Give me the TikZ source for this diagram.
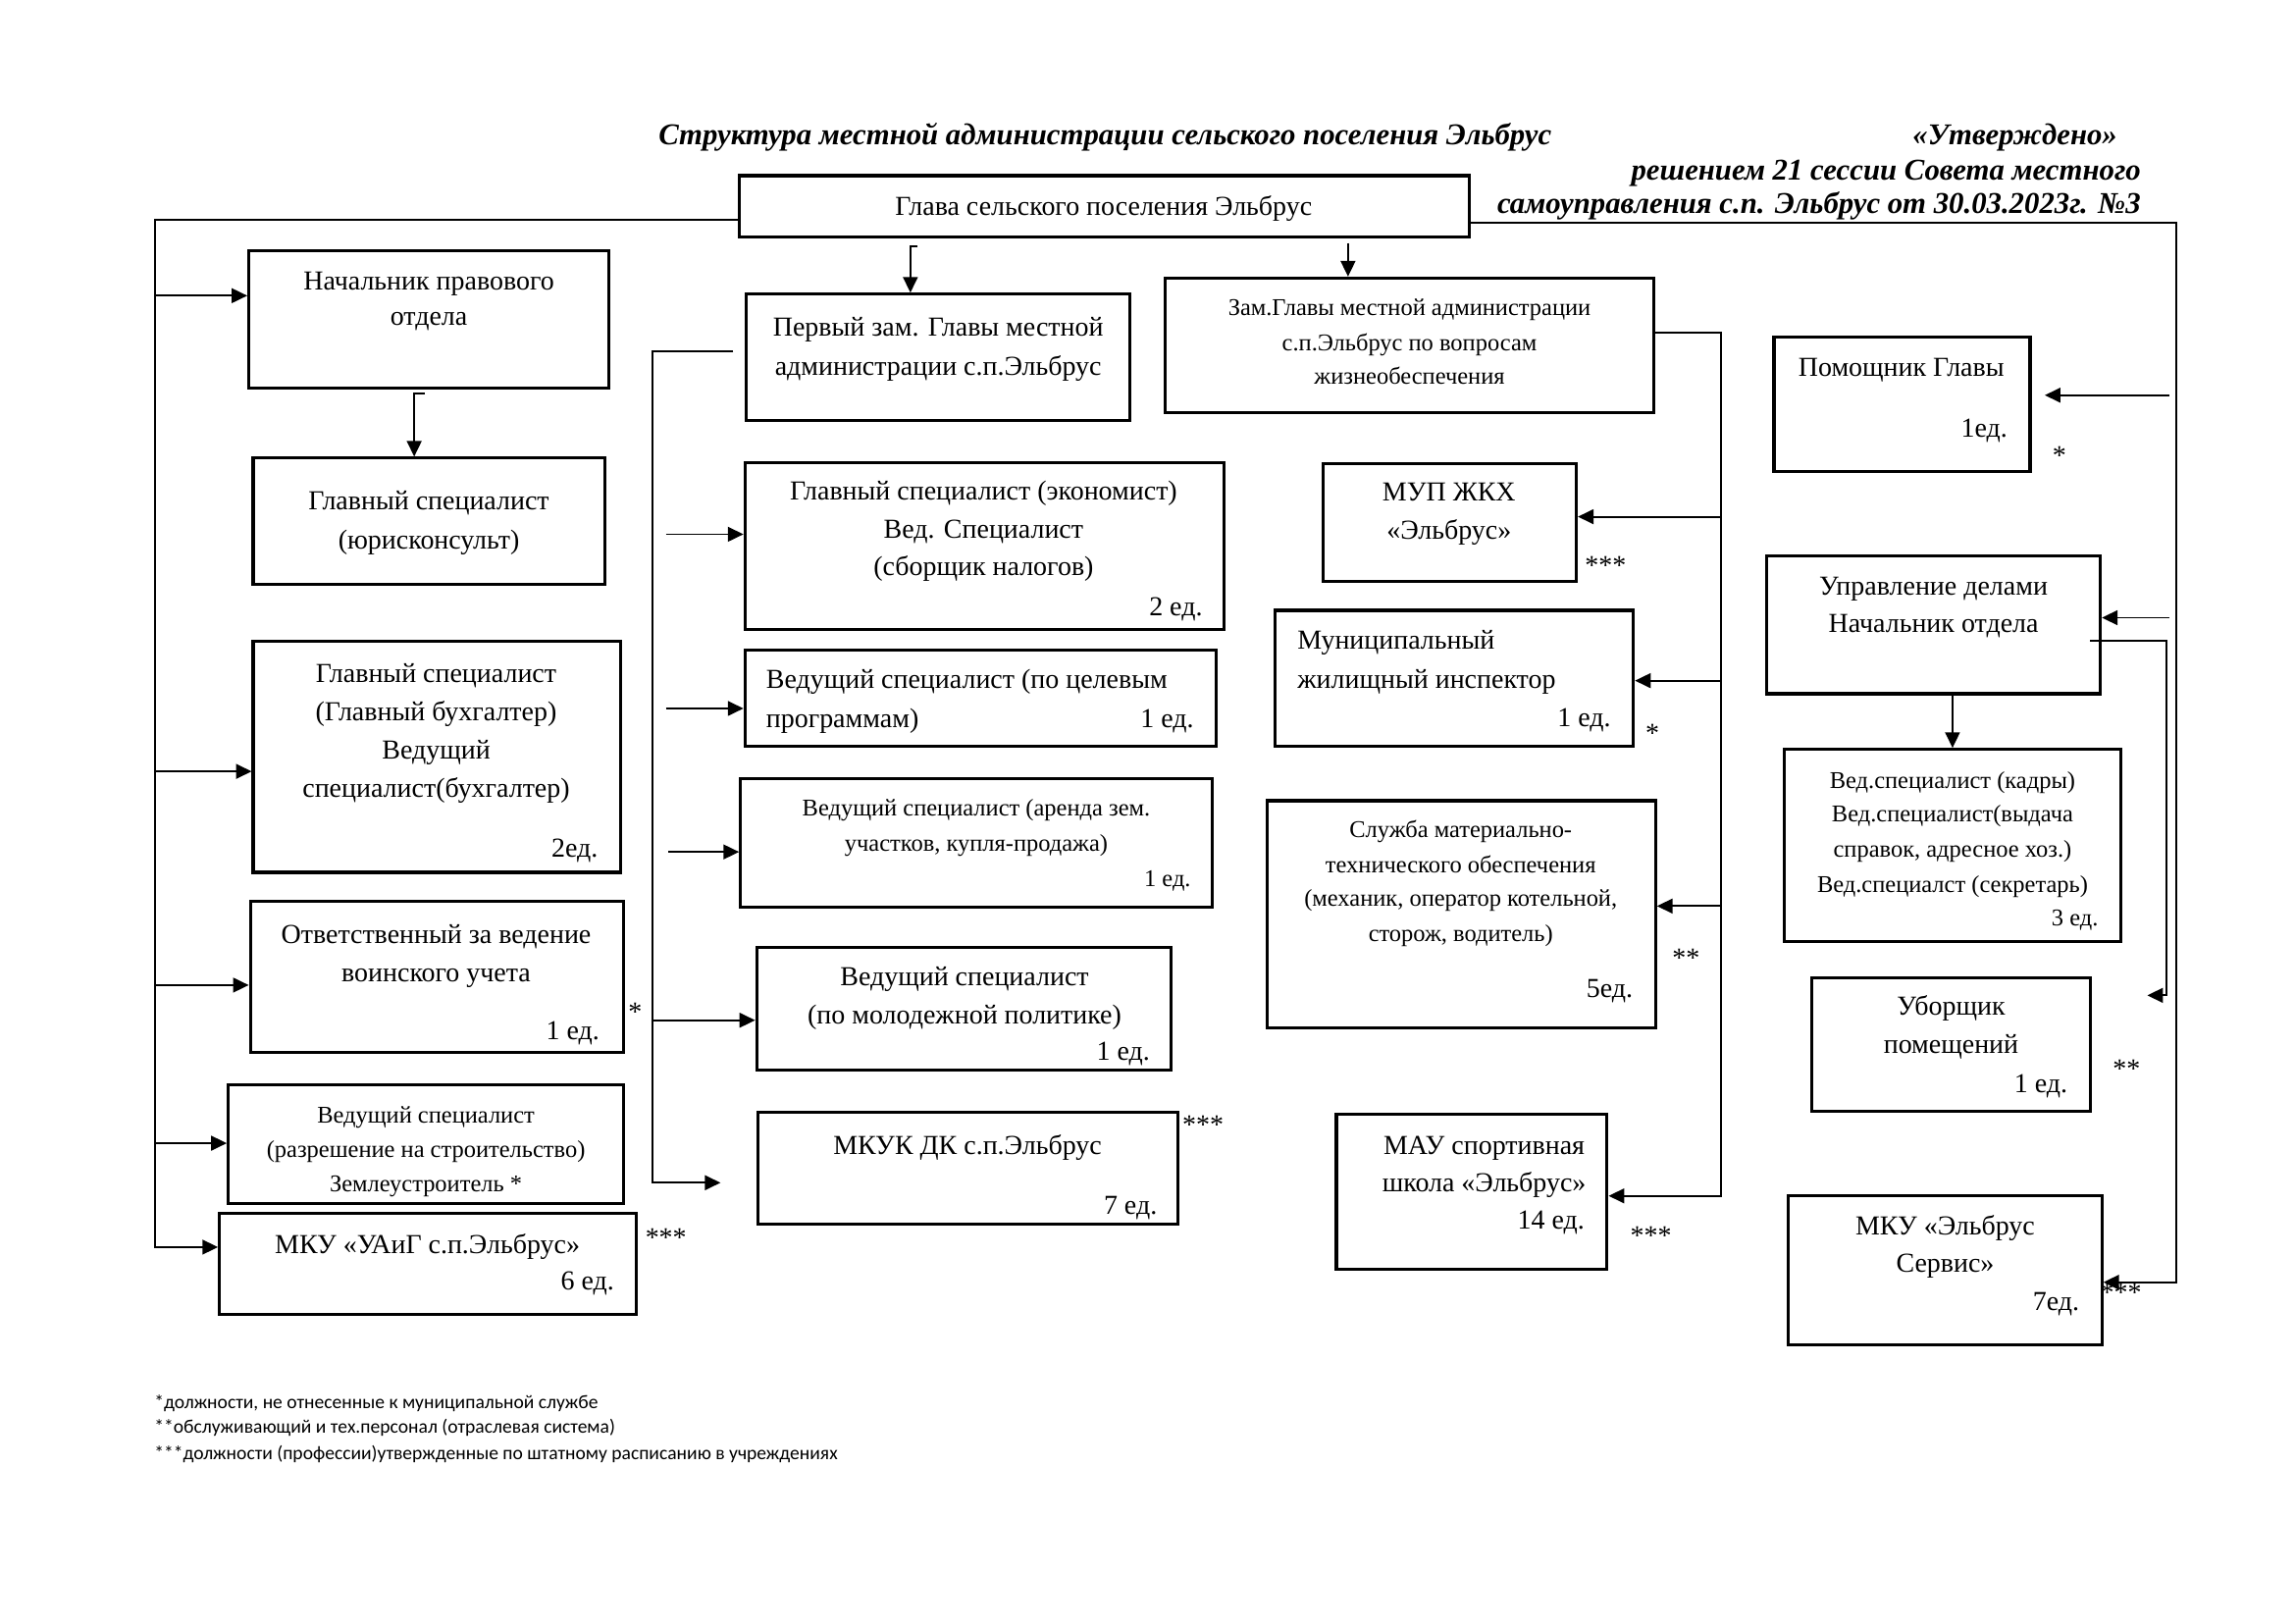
\documentclass[tikz,border=0pt]{standalone}
\usepackage{fontspec}
\setmainfont{Liberation Serif}
\newfontfamily\notefont{Carlito}
\usetikzlibrary{arrows.meta,fit}
\newcommand\mkbox[3]{\node[box, fit={(#2) (#3)}] (#1) {};}
\newcommand\tx[5]{\node[#1, anchor=#2] (#3) at (#4) {#5};}
\begin{document}
\begin{tikzpicture}[x=0.15mm,y=-0.15mm,
  box/.style={draw, line width=0.9pt, inner sep=0pt},
  conn/.style={line width=0.55pt},
  arr/.style={conn, -{Triangle[length=1.6mm,width=1.5mm]}},
  tn/.style={inner sep=0pt, yshift=-0.3mm, font=\fontsize{8}{10}\selectfont},
  ts/.style={inner sep=0pt, yshift=-0.3mm, font=\fontsize{7}{9}\selectfont},
  ttl/.style={inner sep=0pt, yshift=-0.2mm, font=\fontsize{8.8}{11}\selectfont\bfseries\itshape},
  note/.style={inner sep=0pt, font=\notefont\fontsize{5.6}{7}\selectfont},
  star/.style={inner sep=0pt, yshift=-0.3mm, font=\fontsize{8}{9}\selectfont}]
\useasboundingbox (0,0) rectangle (1568,1109);

% ---------- titles ----------
\tx{ttl}{mid}{title}{755,92}{Структура местной администрации сельского поселения Эльбрус}
\tx{ttl}{mid east}{appr1}{1447,92}{«Утверждено»}
\tx{ttl}{mid east}{appr2}{1463,116}{решением 21 сессии Совета местного}
\tx{ttl}{mid east}{appr3}{1463,139}{самоуправления с.п. Эльбрус от 30.03.2023г. №3}

% ---------- boxes ----------
\mkbox{glava}{505,120}{1004,162}
\mkbox{nach}{170,171}{416,265}
\mkbox{yur}{173,313}{413,399}
\mkbox{buh}{173,438}{424,596}
\mkbox{voin}{171,616}{426,719}
\mkbox{stroi}{156,741}{426,822}
\mkbox{uaig}{150,829}{435,898}
\mkbox{perv}{510,201}{772,287}
\mkbox{econ}{509,316}{836,430}
\mkbox{celev}{509,444}{831,510}
\mkbox{arenda}{506,532}{828,620}
\mkbox{molod}{517,647}{800,731}
\mkbox{mkuk}{518,760}{805,836}
\mkbox{zam}{796,190}{1130,282}
\mkbox{mup}{904,317}{1077,397}
\mkbox{mun}{871,417}{1116,510}
\mkbox{sluzh}{866,547}{1131,702}
\mkbox{mau}{913,761}{1098,867}
\mkbox{pom}{1212,230}{1387,322}
\mkbox{upr}{1207,380}{1435,474}
\mkbox{kadr}{1219,512}{1449,643}
\mkbox{ubor}{1238,668}{1428,759}
\mkbox{servis}{1222,817}{1436,919}

% ---------- box texts ----------
\tx{tn}{mid}{glava1}{754,140}{Глава сельского поселения Эльбрус}

\tx{tn}{mid}{nach1}{293,191}{Начальник правового}
\tx{tn}{mid}{nach2}{293,215}{отдела}

\tx{tn}{mid}{yur1}{293,341}{Главный специалист}
\tx{tn}{mid}{yur2}{293,368}{(юрисконсульт)}

\tx{tn}{mid}{buh1}{298,459}{Главный специалист}
\tx{tn}{mid}{buh2}{298,485}{(Главный бухгалтер)}
\tx{tn}{mid}{buh3}{298,511}{Ведущий}
\tx{tn}{mid}{buh4}{298,537}{специалист(бухгалтер)}
\tx{tn}{mid east}{buh5}{409,578}{2ед.}

\tx{tn}{mid}{voin1}{298,637}{Ответственный за ведение}
\tx{tn}{mid}{voin2}{298,663}{воинского учета}
\tx{tn}{mid east}{voin3}{410,703}{1 ед.}
\tx{star}{mid}{voins}{434,690}{*}

\tx{ts}{mid}{stroi1}{291,760}{Ведущий специалист}
\tx{ts}{mid}{stroi2}{291,783}{(разрешение на строительство)}
\tx{ts}{mid}{stroi3}{291,807}{Землеустроитель *}

\tx{tn}{mid}{uaig1}{292,849}{МКУ «УАиГ с.п.Эльбрус»}
\tx{tn}{mid east}{uaig2}{420,874}{6 ед.}
\tx{star}{mid}{uaigs}{455,844}{***}

\tx{tn}{mid}{perv1}{641,222}{Первый зам. Главы местной}
\tx{tn}{mid}{perv2}{641,249}{администрации с.п.Эльбрус}

\tx{tn}{mid}{econ1}{672,334}{Главный специалист (экономист)}
\tx{tn}{mid}{econ2}{672,360}{Вед. Специалист}
\tx{tn}{mid}{econ3}{672,386}{(сборщик налогов)}
\tx{tn}{mid east}{econ4}{822,413}{2 ед.}

\tx{tn}{mid west}{celev1}{523,463}{Ведущий специалист (по целевым}
\tx{tn}{mid west}{celev2}{523,490}{программам)}
\tx{tn}{mid east}{celev3}{816,490}{1 ед.}

\tx{ts}{mid}{arenda1}{667,550}{Ведущий специалист (аренда зем.}
\tx{ts}{mid}{arenda2}{667,574}{участков, купля-продажа)}
\tx{ts}{mid east}{arenda3}{814,598}{1 ед.}

\tx{tn}{mid}{molod1}{659,666}{Ведущий специалист}
\tx{tn}{mid}{molod2}{659,692}{(по молодежной политике)}
\tx{tn}{mid east}{molod3}{786,717}{1 ед.}

\tx{tn}{mid}{mkuk1}{661,781}{МКУК ДК с.п.Эльбрус}
\tx{tn}{mid east}{mkuk2}{791,822}{7 ед.}
\tx{star}{mid}{mkuks}{822,767}{***}

\tx{ts}{mid}{zam1}{963,208}{Зам.Главы местной администрации}
\tx{ts}{mid}{zam2}{963,232}{с.п.Эльбрус по вопросам}
\tx{ts}{mid}{zam3}{963,255}{жизнеобеспечения}

\tx{tn}{mid}{mup1}{990,335}{МУП ЖКХ}
\tx{tn}{mid}{mup2}{990,361}{«Эльбрус»}
\tx{star}{mid}{mups}{1097,385}{***}

\tx{tn}{mid west}{mun1}{886,436}{Муниципальный}
\tx{tn}{mid west}{mun2}{886,463}{жилищный инспектор}
\tx{tn}{mid east}{mun3}{1101,489}{1 ед.}
\tx{star}{mid}{muns}{1129,500}{*}

\tx{ts}{mid}{sluzh1}{998,565}{Служба материально-}
\tx{ts}{mid}{sluzh2}{998,589}{технического обеспечения}
\tx{ts}{mid}{sluzh3}{998,612}{(механик, оператор котельной,}
\tx{ts}{mid}{sluzh4}{998,636}{сторож, водитель)}
\tx{tn}{mid east}{sluzh5}{1116,674}{5ед.}
\tx{star}{mid}{sluzhs}{1152,653}{**}

\tx{tn}{mid}{mau1}{1014,781}{МАУ спортивная}
\tx{tn}{mid}{mau2}{1014,807}{школа «Эльбрус»}
\tx{tn}{mid east}{mau3}{1083,832}{14 ед.}
\tx{star}{mid}{maus}{1128,843}{***}

\tx{tn}{mid}{pom1}{1299,250}{Помощник Главы}
\tx{tn}{mid east}{pom2}{1372,291}{1ед.}
\tx{star}{mid}{poms}{1407,310}{*}

\tx{tn}{mid}{upr1}{1321,399}{Управление делами}
\tx{tn}{mid}{upr2}{1321,425}{Начальник отдела}

\tx{ts}{mid}{kadr1}{1334,531}{Вед.специалист (кадры)}
\tx{ts}{mid}{kadr2}{1334,554}{Вед.специалист(выдача}
\tx{ts}{mid}{kadr3}{1334,578}{справок, адресное хоз.)}
\tx{ts}{mid}{kadr4}{1334,602}{Вед.специалст (секретарь)}
\tx{ts}{mid east}{kadr5}{1434,625}{3 ед.}

\tx{tn}{mid}{ubor1}{1333,686}{Уборщик}
\tx{tn}{mid}{ubor2}{1333,712}{помещений}
\tx{tn}{mid east}{ubor3}{1413,739}{1 ед.}
\tx{star}{mid}{ubors}{1453,729}{**}

\tx{tn}{mid}{servis1}{1329,836}{МКУ «Эльбрус}
\tx{tn}{mid}{servis2}{1329,862}{Сервис»}
\tx{tn}{mid east}{servis3}{1421,888}{7ед.}
\tx{star}{mid}{serviss}{1449,882}{***}

% ---------- footnotes ----------
\tx{note}{mid west}{fn1}{105,957}{*должности, не отнесенные к муниципальной службе}
\tx{note}{mid west}{fn2}{105,974}{**обслуживающий и тех.персонал (отраслевая система)}
\tx{note}{mid west}{fn3}{105,992}{***должности (профессии)утвержденные по штатному расписанию в учреждениях}

% ---------- connectors ----------
\coordinate (L) at (106,150);
\draw[arr] (glava.west |- L) -- (L) -- (L |- 0,852) -- (uaig.west |- 0,852);
\draw[arr] (L |- 0,202) -- (nach.west |- 0,202);
\draw[arr] (L |- 0,527) -- (buh.west |- 0,527);
\draw[arr] (L |- 0,673) -- (voin.west |- 0,673);
\draw[arr] (L |- 0,781) -- (stroi.west |- 0,781);

\coordinate (ny) at (290,269);
\draw[arr] (ny) -- (ny -| 283,0) -- (yur.north -| 283,0);

\coordinate (gp) at (627,168);
\draw[arr] (gp) -- (gp -| 622,0) -- (perv.north -| 622,0);
\draw[arr, shorten <=0.45mm] (glava.south -| 921,0) -- (zam.north -| 921,0);

\coordinate (M) at (446,240);
\draw[arr, shorten <=1.2mm, shorten >=3.7mm] (perv.west |- M) -- (M) -- (M |- 0,808) -- (mkuk.west |- 0,808);
\draw[arr, shorten <=1.35mm] (M |- 0,365) -- (econ.west |- 0,365);
\draw[arr, shorten <=1.35mm] (M |- 0,484) -- (celev.west |- 0,484);
\draw[arr, shorten <=1.6mm] (M |- 0,582) -- (arenda.west |- 0,582);
\draw[arr] (M |- 0,697) -- (molod.west |- 0,697);

\coordinate (Z) at (1176,227);
\draw[arr] (zam.east |- Z) -- (Z) -- (Z |- 0,817) -- (mau.east |- 0,817);
\draw[arr] (Z |- 0,353) -- (mup.east |- 0,353);
\draw[arr] (Z |- 0,465) -- (mun.east |- 0,465);
\draw[arr] (Z |- 0,619) -- (sluzh.east |- 0,619);

\coordinate (R) at (1487,152);
\draw[arr] (glava.east |- R) -- (R) -- (R |- 0,876) -- (servis.east |- 0,876);
\draw[arr, shorten <=0.75mm, shorten >=1.35mm] (R |- 0,270) -- (pom.east |- 0,270);
\draw[arr, shorten <=0.75mm] (R |- 0,422) -- (upr.east |- 0,422);
\coordinate (R2) at (1480,438);
\draw[arr, shorten <=-1.2mm, shorten >=5.7mm] (upr.east |- R2) -- (R2) -- (R2 |- 0,680) -- (ubor.east |- 0,680);
\draw[arr] (upr.south -| 1334,0) -- (kadr.north -| 1334,0);
\end{tikzpicture}
\end{document}
